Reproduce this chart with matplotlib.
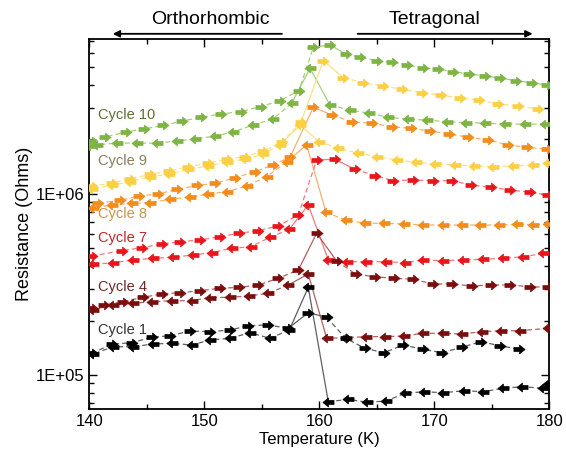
import numpy as np
import matplotlib
matplotlib.use("Agg")
import matplotlib.pyplot as plt
from matplotlib.path import Path
from matplotlib.ticker import FixedLocator, LogLocator, NullFormatter, MultipleLocator

plt.rcParams['font.family'] = ['Liberation Sans', 'DejaVu Sans']

# ---------------- data (T in K, R in Ohms) ----------------
# Cycle 10
c10_heat_T = [140.24, 141.37, 143.17, 144.79, 146.44, 148.10, 149.72, 151.46, 153.20, 154.94, 156.59, 158.24,
              159.49, 160.94, 162.30, 163.55, 165.00, 166.30, 167.66, 169.00, 170.36, 171.66, 173.05, 174.42,
              175.72, 177.11, 178.48, 179.78]
c10_heat_R = [1.96e6, 2.06e6, 2.20e6, 2.29e6, 2.39e6, 2.53e6, 2.65e6, 2.77e6, 2.85e6, 3.04e6, 3.28e6, 3.72e6,
              6.46e6, 6.66e6, 5.93e6, 5.69e6, 5.45e6, 5.34e6, 5.16e6, 4.95e6, 4.89e6, 4.74e6, 4.60e6, 4.49e6,
              4.36e6, 4.23e6, 4.12e6, 4.00e6]
c10_cool_T = [179.63, 177.90, 176.16, 174.42, 172.77, 171.09, 169.35, 167.70, 166.01, 164.36, 162.68, 160.94,
              159.20, 157.61, 155.96, 154.22, 152.53, 150.94, 149.20, 147.61, 145.87, 144.13, 142.39, 140.65, 140.07]
c10_cool_R = [2.43e6, 2.43e6, 2.44e6, 2.46e6, 2.48e6, 2.51e6, 2.56e6, 2.59e6, 2.65e6, 2.79e6, 2.91e6, 3.10e6,
              4.95e6, 3.17e6, 2.59e6, 2.40e6, 2.20e6, 2.09e6, 2.01e6, 1.96e6, 1.91e6, 1.91e6, 1.91e6, 1.87e6, 1.84e6]

# Cycle 9
c9_heat_T = [140.22, 141.96, 143.55, 145.29, 146.97, 148.62, 150.30, 151.96, 153.55, 155.14, 156.77, 158.42,
             160.36, 162.10, 163.83, 165.52, 167.17, 168.91, 170.59, 172.24, 173.92, 175.57, 177.31, 179.05]
c9_heat_R = [1.107e6, 1.146e6, 1.210e6, 1.285e6, 1.340e6, 1.416e6, 1.478e6, 1.555e6, 1.607e6, 1.728e6, 1.937e6,
             2.50e6, 5.45e6, 4.39e6, 4.12e6, 3.95e6, 3.79e6, 3.63e6, 3.52e6, 3.38e6, 3.31e6, 3.14e6, 3.07e6, 2.95e6]
c9_cool_T = [179.92, 178.57, 176.88, 175.14, 173.49, 171.81, 170.07, 168.42, 166.74, 165.05, 163.40, 161.66,
             160.01, 158.33, 156.59, 155.11, 153.55, 151.96, 150.30, 148.62, 146.97, 145.29, 143.55, 141.96, 140.22]
c9_cool_R = [1.478e6, 1.446e6, 1.428e6, 1.415e6, 1.428e6, 1.446e6, 1.465e6, 1.497e6, 1.541e6, 1.607e6, 1.678e6,
             1.788e6, 1.945e6, 2.405e6, 1.865e6, 1.664e6, 1.551e6, 1.503e6, 1.428e6, 1.366e6, 1.290e6, 1.241e6,
             1.172e6, 1.114e6, 1.066e6]

# Cycle 8
c8_heat_T = [140.79, 142.68, 144.33, 146.01, 147.61, 149.35, 150.98, 152.68, 154.43, 155.96, 157.47, 159.49,
             161.09, 162.83, 164.57, 166.30, 167.96, 169.63, 171.31, 172.97, 174.70, 176.39, 178.04, 179.78]
c8_heat_R = [0.892e6, 0.921e6, 0.975e6, 1.000e6, 1.059e6, 1.114e6, 1.146e6, 1.230e6, 1.328e6, 1.446e6, 1.601e6,
             3.01e6, 2.733e6, 2.508e6, 2.458e6, 2.354e6, 2.306e6, 2.228e6, 2.146e6, 2.057e6, 1.988e6, 1.865e6,
             1.811e6, 1.766e6]
c8_cool_T = [179.92, 178.55, 177.17, 175.66, 173.98, 172.39, 170.74, 169.05, 167.37, 165.63, 163.98, 162.30,
             160.59, 158.91, 157.17, 155.43, 153.70, 151.96, 150.36, 148.77, 147.03, 145.29, 143.70, 141.96, 140.36]
c8_cool_R = [0.680e6, 0.678e6, 0.680e6, 0.674e6, 0.674e6, 0.674e6, 0.674e6, 0.674e6, 0.683e6, 0.689e6, 0.689e6,
             0.718e6, 0.792e6, 1.865e6, 1.508e6, 1.246e6, 1.107e6, 1.030e6, 1.000e6, 0.959e6, 0.935e6, 0.895e6,
             0.888e6, 0.870e6, 0.834e6]

# Cycle 7
c7_heat_T = [140.22, 142.83, 144.57, 146.30, 147.90, 149.63, 151.37, 153.05, 154.70, 156.44, 158.18, 159.78,
             161.37, 163.11, 164.85, 166.44, 168.13, 169.87, 171.52, 173.20, 174.91, 176.59, 178.33, 179.92]
c7_heat_R = [0.4545e6, 0.486e6, 0.505e6, 0.5295e6, 0.545e6, 0.557e6, 0.581e6, 0.607e6, 0.627e6, 0.666e6, 0.765e6,
             1.541e6, 1.555e6, 1.369e6, 1.262e6, 1.184e6, 1.195e6, 1.184e6, 1.184e6, 1.121e6, 1.089e6, 1.052e6,
             1.022e6, 0.987e6]
c7_cool_T = [179.49, 177.75, 176.01, 174.27, 172.53, 170.79, 169.05, 167.46, 165.81, 164.07, 162.39, 160.79,
             159.05, 157.40, 155.72, 154.04, 152.39, 150.65, 149.00, 147.26, 145.52, 143.83, 142.10, 140.36]
c7_cool_R = [0.470e6, 0.450e6, 0.441e6, 0.436e6, 0.432e6, 0.428e6, 0.432e6, 0.417e6, 0.4226e6, 0.4226e6, 0.4226e6,
             0.432e6, 0.870e6, 0.638e6, 0.576e6, 0.511e6, 0.501e6, 0.474e6, 0.460e6, 0.447e6, 0.441e6, 0.432e6,
             0.417e6, 0.409e6]

# Cycle 4
c4_heat_T = [140.22, 141.29, 142.97, 144.70, 146.30, 147.90, 149.63, 151.37, 153.05, 154.70, 156.44, 158.18,
             159.78, 161.52, 163.20, 164.85, 166.53, 168.18, 169.87, 171.52, 173.26, 174.91, 176.59, 178.33, 179.92]
c4_heat_R = [0.2336e6, 0.2436e6, 0.254e6, 0.2688e6, 0.2803e6, 0.2849e6, 0.292e6, 0.3013e6, 0.3051e6, 0.3142e6,
             0.3422e6, 0.380e6, 0.607e6, 0.4265e6, 0.360e6, 0.349e6, 0.3422e6, 0.338e6, 0.3184e6, 0.3184e6,
             0.3104e6, 0.3142e6, 0.3142e6, 0.3076e6, 0.3051e6]
c4_cool_T = [179.92, 177.46, 175.78, 174.13, 172.39, 170.79, 169.05, 167.37, 165.72, 164.07, 162.33, 160.65,
             159.05, 157.31, 155.57, 153.92, 152.24, 150.50, 148.91, 147.17, 145.43, 143.83, 142.10, 140.33]
c4_cool_R = [0.1811e6, 0.1757e6, 0.1757e6, 0.1735e6, 0.1685e6, 0.170e6, 0.170e6, 0.1643e6, 0.1629e6, 0.1629e6,
             0.1607e6, 0.1595e6, 0.3614e6, 0.3142e6, 0.2828e6, 0.2733e6, 0.2688e6, 0.2675e6, 0.2573e6, 0.2573e6,
             0.254e6, 0.249e6, 0.2436e6, 0.230e6]

# Cycle 1
c1_heat_T = [140.22, 141.96, 143.70, 145.43, 147.03, 148.77, 150.50, 152.24, 153.83, 155.57, 157.31, 159.05,
             160.65, 162.30, 163.98, 165.63, 167.31, 169.00, 170.70, 172.39, 174.04, 175.72, 177.40]
c1_heat_R = [0.1318e6, 0.1478e6, 0.1509e6, 0.1615e6, 0.1648e6, 0.1750e6, 0.1735e6, 0.1772e6, 0.1872e6, 0.1889e6,
             0.1811e6, 0.2209e6, 0.2083e6, 0.1595e6, 0.1404e6, 0.1328e6, 0.1465e6, 0.1387e6, 0.1328e6, 0.1423e6,
             0.1528e6, 0.1452e6, 0.1387e6]
c1_cool_T = [179.92, 179.49, 177.61, 175.96, 174.27, 172.59, 170.79, 169.11, 167.46, 165.81, 164.18, 162.53,
             160.79, 159.05, 157.40, 155.72, 153.98, 152.24, 150.50, 148.91, 147.17, 145.52, 143.83, 142.10, 140.33]
c1_cool_R = [0.0892e6, 0.0844e6, 0.0862e6, 0.0844e6, 0.0809e6, 0.0819e6, 0.0798e6, 0.0809e6, 0.0792e6, 0.0718e6,
             0.0707e6, 0.0734e6, 0.0712e6, 0.3051e6, 0.1772e6, 0.1595e6, 0.1713e6, 0.1595e6, 0.1561e6, 0.1465e6,
             0.1497e6, 0.1483e6, 0.1433e6, 0.1433e6, 0.1306e6]

cycle_names = ["Cycle 10", "Cycle 9", "Cycle 8", "Cycle 7", "Cycle 4", "Cycle 1"]
label_T = [140.8, 140.8, 140.8, 140.8, 140.8, 140.8]
label_R = [2.73e6, 1.52e6, 0.775e6, 0.571e6, 0.306e6, 0.177e6]

curves = [
    (c10_heat_T, c10_heat_R, c10_cool_T, c10_cool_R),
    (c9_heat_T, c9_heat_R, c9_cool_T, c9_cool_R),
    (c8_heat_T, c8_heat_R, c8_cool_T, c8_cool_R),
    (c7_heat_T, c7_heat_R, c7_cool_T, c7_cool_R),
    (c4_heat_T, c4_heat_R, c4_cool_T, c4_cool_R),
    (c1_heat_T, c1_heat_R, c1_cool_T, c1_cool_R),
]
marker_colors = ["#7db443", "#fbd045", "#f28c1c", "#e8161c", "#7a0d0d", "#000000"]
line_colors = ["#a6cf78", "#fbe08a", "#f5b070", "#f07a7a", "#b06060", "#606060"]
text_colors = ["#5d6e35", "#8a7d5e", "#c9954f", "#c2262c", "#6b2a2a", "#333333"]

# ---------------- markers ----------------
def arrow_marker(direction):
    v = np.array([(-1.0, 0.36), (0.0, 0.36), (0.0, 0.8), (1.0, 0.0), (0.0, -0.8),
                  (0.0, -0.36), (-1.0, -0.36), (-1.0, 0.36)])
    v[:, 0] *= direction
    codes = [Path.MOVETO] + [Path.LINETO] * 6 + [Path.CLOSEPOLY]
    return Path(v, codes)

right_m = arrow_marker(1)
left_m = arrow_marker(-1)

fig = plt.figure(figsize=(5.66, 4.55), dpi=100)
ax = fig.add_axes([0.1576, 0.1011, 0.8127, 0.8132])

def draw(T, R, marker, mc, lc):
    T = np.asarray(T); R = np.asarray(R)
    k = int(np.argmax(R))
    ax.plot(T[:k], R[:k], ls=(0, (4, 2.5)), lw=0.9, color=lc, zorder=2)
    ax.plot(T[k + 1:], R[k + 1:], ls=(0, (4, 2.5)), lw=0.9, color=lc, zorder=2)
    lo, hi = max(k - 1, 0), min(k + 2, len(T))
    ax.plot(T[lo:hi], R[lo:hi], ls='-', lw=0.9, color=lc, zorder=2)
    ax.plot(T, R, ls='none', marker=marker, ms=8, color=mc, mec=mc, mew=0.5, zorder=3)

for (hT, hR, cT, cR), mc, lc in zip(curves, marker_colors, line_colors):
    draw(hT, hR, right_m, mc, lc)
    draw(cT, cR, left_m, mc, lc)

for name, tx, ty, tc in zip(cycle_names, label_T, label_R, text_colors):
    ax.text(tx, ty, name, color=tc, fontsize=10.5, ha='left', va='center')

ax.set_yscale('log')
ax.set_xlim(140, 180)
ax.set_ylim(6.49e4, 7.18e6)
ax.xaxis.set_major_locator(MultipleLocator(10))
ax.xaxis.set_minor_locator(MultipleLocator(5))
ax.yaxis.set_major_locator(FixedLocator([1e5, 1e6]))
ax.set_yticklabels(["1E+05", "1E+06"])
ax.yaxis.set_minor_locator(LogLocator(base=10, subs=np.arange(2, 10)))
ax.yaxis.set_minor_formatter(NullFormatter())
ax.tick_params(which='both', direction='in', top=True, right=True, labelsize=12, width=1.0)
ax.tick_params(which='major', length=6)
ax.tick_params(which='minor', length=3.5)
for s in ax.spines.values():
    s.set_linewidth(1.3)

ax.set_xlabel("Temperature (K)", fontsize=12, labelpad=2)
ax.set_ylabel("Resistance (Ohms)", fontsize=13, labelpad=2)

ax.annotate('', xy=(141.8, 1.014), xytext=(157.0, 1.014), xycoords=('data', 'axes fraction'),
            textcoords=('data', 'axes fraction'),
            arrowprops=dict(arrowstyle='-|>', color='black', lw=1.3, mutation_scale=10), annotation_clip=False)
ax.annotate('', xy=(178.8, 1.014), xytext=(163.1, 1.014), xycoords=('data', 'axes fraction'),
            textcoords=('data', 'axes fraction'),
            arrowprops=dict(arrowstyle='-|>', color='black', lw=1.3, mutation_scale=10), annotation_clip=False)
ax.text(150.5, 1.052, "Orthorhombic", transform=ax.get_xaxis_transform(), ha='center', va='center', fontsize=14)
ax.text(170.0, 1.052, "Tetragonal", transform=ax.get_xaxis_transform(), ha='center', va='center', fontsize=14)

fig.savefig("out.png", dpi=100)
